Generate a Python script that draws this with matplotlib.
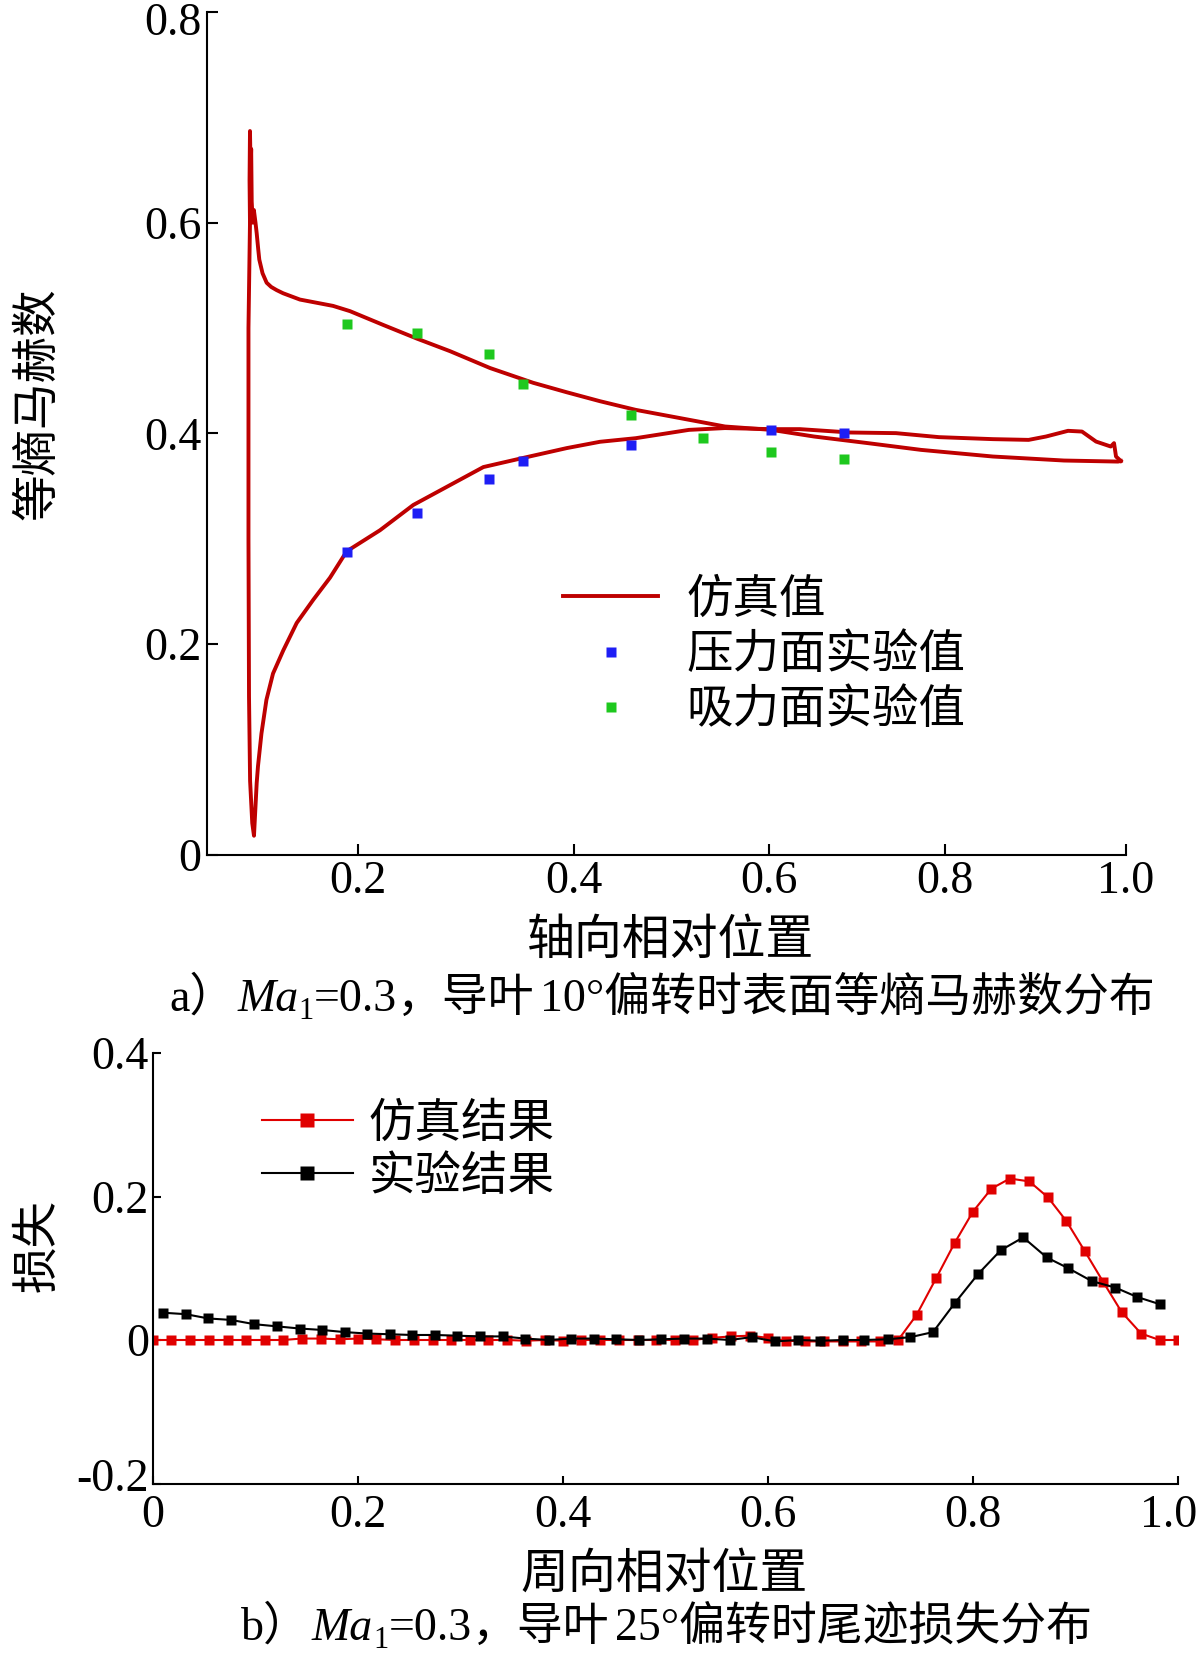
import numpy as np
import matplotlib
matplotlib.use("Agg")
import matplotlib.pyplot as plt
from matplotlib.lines import Line2D
from matplotlib.transforms import ScaledTranslation

# ---------------- panel a data ----------------
suction_x = [0.1004, 0.1000, 0.1004, 0.1010, 0.1015, 0.1020, 0.1030, 0.1040, 0.1055, 0.1066,
             0.1080, 0.1090, 0.1120, 0.1158, 0.1200, 0.1250, 0.1310, 0.1466, 0.1772, 0.1929,
             0.2234, 0.2546, 0.2854, 0.3224, 0.3622, 0.3933, 0.4267, 0.4633, 0.4999, 0.5549,
             0.6027, 0.6513, 0.7128, 0.7733, 0.8534, 0.9317, 0.9912, 0.9943]
suction_y = [0.600, 0.640, 0.687, 0.650, 0.670, 0.620, 0.600, 0.612, 0.600, 0.590,
             0.575, 0.565, 0.552, 0.543, 0.539, 0.536, 0.533, 0.527, 0.521, 0.516,
             0.503, 0.490, 0.478, 0.462, 0.448, 0.439, 0.4305, 0.4223, 0.416, 0.4065,
             0.4033, 0.397, 0.3907, 0.3843, 0.378, 0.3742, 0.3732, 0.3738]
pressure_x = [0.1004, 0.0990, 0.0990, 0.0995, 0.1005, 0.1025, 0.1041, 0.1050, 0.1066, 0.1078,
              0.1110, 0.1156, 0.1217, 0.1312, 0.1436, 0.1589, 0.1744, 0.1898, 0.2206, 0.2514,
              0.3162, 0.3501, 0.3933, 0.4267, 0.4633, 0.5179, 0.5549, 0.6023, 0.6353, 0.6923,
              0.7447, 0.7937, 0.8534, 0.8927, 0.9119, 0.9361, 0.9515, 0.9670, 0.9832, 0.9868,
              0.9890, 0.9943]
pressure_y = [0.600, 0.500, 0.300, 0.150, 0.070, 0.030, 0.018, 0.036, 0.068, 0.084,
              0.115, 0.147, 0.172, 0.194, 0.220, 0.242, 0.263, 0.288, 0.308, 0.332,
              0.368, 0.376, 0.386, 0.392, 0.3954, 0.4033, 0.405, 0.404, 0.404, 0.4008,
              0.4002, 0.3964, 0.3945, 0.3938, 0.397, 0.4024, 0.4017, 0.3922, 0.3875, 0.3907,
              0.378, 0.3738]
exp_ps_x = [0.1898, 0.2551, 0.3217, 0.3526, 0.4585, 0.6027, 0.6850]
exp_ps_y = [0.2878, 0.3248, 0.3565, 0.3739, 0.3891, 0.4033, 0.4002]
exp_ss_x = [0.1898, 0.2551, 0.3217, 0.3526, 0.4585, 0.5318, 0.6027, 0.6850]
exp_ss_y = [0.5037, 0.4951, 0.4755, 0.4470, 0.4171, 0.3954, 0.3827, 0.3758]
a_xticks = [0.2, 0.4, 0.6, 0.8, 1.0]
a_xticklabels = ["0.2", "0.4", "0.6", "0.8", "1.0"]
a_yticks = [0, 0.2, 0.4, 0.6, 0.8]
a_yticklabels = ["0", "0.2", "0.4", "0.6", "0.8"]

# ---------------- panel b data ----------------
sim_x = [0.000, 0.018, 0.036, 0.055, 0.073, 0.091, 0.109, 0.127, 0.145, 0.164,
         0.182, 0.200, 0.218, 0.236, 0.255, 0.273, 0.291, 0.309, 0.327, 0.345,
         0.364, 0.382, 0.400, 0.418, 0.436, 0.455, 0.473, 0.491, 0.509, 0.527,
         0.545, 0.564, 0.582, 0.600, 0.618, 0.636, 0.655, 0.673, 0.691, 0.709,
         0.727, 0.745, 0.764, 0.782, 0.800, 0.818, 0.836, 0.855, 0.873, 0.891,
         0.909, 0.927, 0.945, 0.964, 0.982, 1.000]
sim_y = [0.000, 0.000, 0.000, 0.000, 0.000, 0.000, 0.000, 0.000, 0.002, 0.002,
         0.001, 0.002, 0.001, 0.000, 0.000, 0.000, 0.000, 0.000, 0.000, 0.000,
         -0.001, 0.000, -0.001, 0.000, 0.000, 0.000, 0.000, 0.000, 0.000, 0.000,
         0.003, 0.005, 0.006, 0.003, -0.001, -0.002, -0.002, -0.002, -0.002, -0.002,
         0.000, 0.035, 0.086, 0.135, 0.179, 0.211, 0.225, 0.221, 0.199, 0.166,
         0.124, 0.081, 0.039, 0.009, 0.000, 0.000]
exp_x = [0.010, 0.032, 0.054, 0.076, 0.099, 0.121, 0.143, 0.165, 0.187, 0.209,
         0.231, 0.253, 0.275, 0.297, 0.319, 0.341, 0.363, 0.386, 0.408, 0.430,
         0.452, 0.474, 0.496, 0.518, 0.540, 0.563, 0.584, 0.607, 0.629, 0.651,
         0.673, 0.694, 0.717, 0.739, 0.761, 0.782, 0.805, 0.827, 0.849, 0.872,
         0.893, 0.916, 0.939, 0.960, 0.982]
exp_y = [0.038, 0.036, 0.030, 0.028, 0.022, 0.019, 0.016, 0.014, 0.011, 0.009,
         0.008, 0.007, 0.007, 0.006, 0.005, 0.005, 0.002, 0.000, 0.002, 0.002,
         0.001, 0.000, 0.001, 0.002, 0.002, 0.000, 0.004, -0.002, 0.000, -0.001,
         0.000, 0.000, 0.001, 0.004, 0.011, 0.051, 0.092, 0.125, 0.143, 0.115,
         0.100, 0.082, 0.073, 0.060, 0.050]
b_xticks = [0, 0.2, 0.4, 0.6, 0.8, 1.0]
b_xticklabels = ["0", "0.2", "0.4", "0.6", "0.8", "1.0"]
b_yticks = [-0.2, 0, 0.2, 0.4]
b_yticklabels = ["-0.2", "0", "0.2", "0.4"]

# ---------------- styling ----------------
CJK = ["Noto Sans CJK SC", "DejaVu Sans"]
SERIF = ["Liberation Serif", "Noto Sans CJK SC", "DejaVu Sans"]
plt.rcParams["font.family"] = SERIF
FS_CJK = 33.5

fig = plt.figure(figsize=(12, 16.59), dpi=100)
W, H = 1200.0, 1659.0

# the reference's axial axis has unevenly spaced labelled ticks -> piecewise-linear scale
scale_vals = np.array([0.2, 0.4, 0.6, 0.8, 1.0])
scale_pos = np.array([357.7, 574.0, 769.0, 944.5, 1126.0])


def _pw(v, xs, ys):
    v = np.asarray(v, dtype=float)
    out = np.interp(v, xs, ys)
    s0 = (ys[1] - ys[0]) / (xs[1] - xs[0])
    s1 = (ys[-1] - ys[-2]) / (xs[-1] - xs[-2])
    out = np.where(v < xs[0], ys[0] + (v - xs[0]) * s0, out)
    out = np.where(v > xs[-1], ys[-1] + (v - xs[-1]) * s1, out)
    return out


def fwd(v):
    return _pw(v, scale_vals, scale_pos)


def inv(u):
    return _pw(u, scale_pos, scale_vals)


# ---------------- panel a ----------------
ax1 = fig.add_axes([207 / W, 1 - 854.7 / H, (1126 - 207) / W, (854.7 - 12) / H])
ax1.set_xscale("function", functions=(fwd, inv))
line_col = "#BE0000"
ax1.plot(suction_x, suction_y, color=line_col, lw=2.8, solid_joinstyle="round")
ax1.plot(pressure_x, pressure_y, color=line_col, lw=2.8, solid_joinstyle="round")
ax1.plot(exp_ps_x, exp_ps_y, "s", color="#1E1EF5", ms=7.5, mec="none")
ax1.plot(exp_ss_x, exp_ss_y, "s", color="#1EC81E", ms=7.5, mec="none")
ax1.set_xlim(float(inv(207.0)), 1.0)
ax1.set_ylim(0, 0.8)
ax1.set_xticks(a_xticks)
ax1.set_xticklabels(a_xticklabels)
ax1.set_yticks(a_yticks)
ax1.set_yticklabels(a_yticklabels)
ax1.xaxis.set_minor_locator(matplotlib.ticker.NullLocator())

# ---------------- panel b ----------------
ax2 = fig.add_axes([153 / W, 1 - 1483.5 / H, 1025 / W, 430.5 / H])
ax2.plot(sim_x, sim_y, "-s", color="#E00000", lw=1.5, ms=6.5, mec="none")
ax2.plot(exp_x, exp_y, "-s", color="black", lw=1.5, ms=6.5, mec="none")
ax2.set_xlim(0, 1.0)
ax2.set_ylim(-0.2, 0.4)
ax2.set_xticks(b_xticks)
ax2.set_xticklabels(b_xticklabels)
ax2.set_yticks(b_yticks)
ax2.set_yticklabels(b_yticklabels)

for ax, tl in ((ax1, 8), (ax2, 6)):
    for s in ("top", "right"):
        ax.spines[s].set_visible(False)
    for s in ("left", "bottom"):
        ax.spines[s].set_linewidth(1.5)
    ax.tick_params(direction="in", length=tl, width=1.5, labelsize=33)
    ax.patch.set_alpha(0)
ax1.tick_params(axis="x", pad=4.5)
ax1.tick_params(axis="y", pad=4)
ax2.tick_params(axis="x", pad=8)
ax2.tick_params(axis="y", pad=3)
for lab in ax1.get_xticklabels() + ax1.get_yticklabels() + ax2.get_xticklabels() + ax2.get_yticklabels():
    lab.set_family(SERIF)


def nudge(label, dx_px, dy_px):
    label.set_transform(label.get_transform() +
                        ScaledTranslation(dx_px / 100.0, dy_px / 100.0, fig.dpi_scale_trans))


nudge(ax1.yaxis.get_major_ticks()[-1].label1, 0, -7)    # "0.8" kept inside the figure
nudge(ax2.xaxis.get_major_ticks()[-1].label1, -9, 0)    # "1.0" kept inside the figure
nudge(ax2.yaxis.get_major_ticks()[0].label1, 0, 9)      # "-0.2" raised as in reference

# legends
h1 = [Line2D([], [], color=line_col, lw=2.8),
      Line2D([], [], ls="none", marker="s", color="#1E1EF5", ms=7.5, mec="none"),
      Line2D([], [], ls="none", marker="s", color="#1EC81E", ms=7.5, mec="none")]
ax1.legend(h1, ["仿真值", "压力面实验值", "吸力面实验值"], loc="upper left",
           bbox_to_anchor=(563 / W, 1 - 575 / H), bbox_transform=fig.transFigure,
           frameon=False, borderpad=0, borderaxespad=0, handlelength=2.05,
           handletextpad=0.6, labelspacing=0.15, prop={"family": CJK, "size": FS_CJK})

h2 = [Line2D([], [], color="#E00000", lw=1.5, marker="s", ms=10, mec="none"),
      Line2D([], [], color="black", lw=1.5, marker="s", ms=10, mec="none")]
ax2.legend(h2, ["仿真结果", "实验结果"], loc="upper left",
           bbox_to_anchor=(262 / W, 1 - 1099 / H), bbox_transform=fig.transFigure,
           frameon=False, borderpad=0, borderaxespad=0, handlelength=1.95,
           handletextpad=0.35, labelspacing=0.1, prop={"family": CJK, "size": FS_CJK})

# axis labels
fig.text(37 / W, 1 - 404 / H, "等熵马赫数", rotation=90, ha="center", va="center",
         family=CJK, fontsize=FS_CJK)
fig.text(671 / W, 1 - 940 / H, "轴向相对位置", ha="center", va="center", family=CJK, fontsize=34.5)
fig.text(37 / W, 1 - 1246 / H, "损失", rotation=90, ha="center", va="center",
         family=CJK, fontsize=FS_CJK)
fig.text(664 / W, 1 - 1574 / H, "周向相对位置", ha="center", va="center", family=CJK, fontsize=34.5)

# captions: built from pieces so that the italic Ma with subscript 1 sits inline with CJK text
renderer = fig.canvas.get_renderer()


def caption(x0_px, base_px, pieces):
    x = x0_px
    for s, kw, dy, gap in pieces:
        x += gap
        t = fig.text(x / W, 1 - (base_px + dy) / H, s, ha="left", va="baseline", **kw)
        x += t.get_window_extent(renderer=renderer).width


norm = dict(family=SERIF, fontsize=33)
cjk = dict(family=SERIF, fontsize=33)
ital = dict(family=["Liberation Serif"], style="italic", fontsize=33)
sub = dict(family=["Liberation Serif"], fontsize=22)

caption(169, 1011, [("a）", norm, 0, 0), ("Ma", ital, 0, 2), ("1", sub, 8, 0),
                    ("=0.3", norm, 0, 0), ("，导叶", cjk, 0, 0),
                    ("10°偏转时表面等熵马赫数分布", cjk, 0, 6)])
caption(241, 1640, [("b）", norm, 0, 0), ("Ma", ital, 0, 2), ("1", sub, 8, 0),
                    ("=0.3", norm, 0, 0), ("，导叶", cjk, 0, 0),
                    ("25°偏转时尾迹损失分布", cjk, 0, 6)])

fig.savefig("out.png", dpi=100)
